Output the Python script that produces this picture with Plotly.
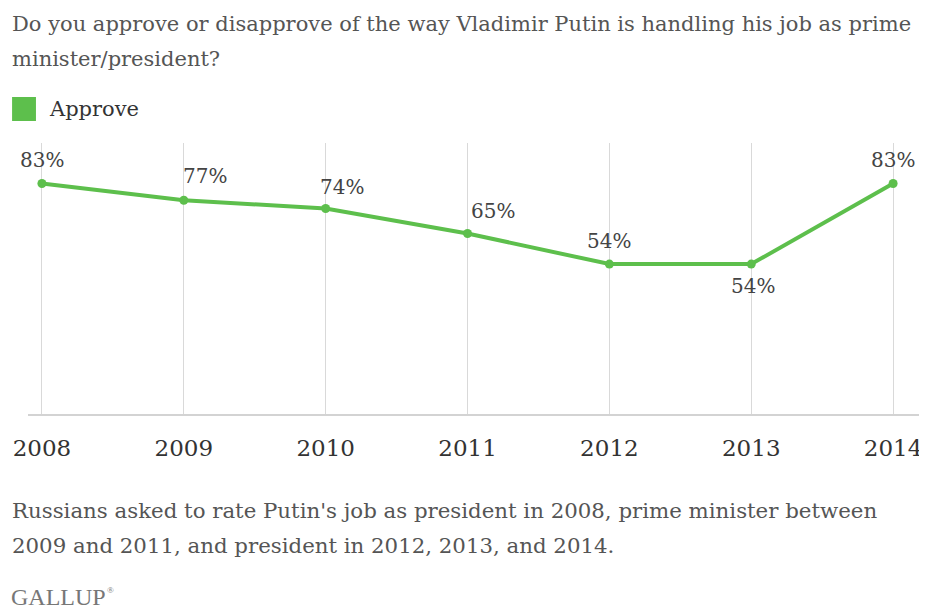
import plotly.graph_objects as go

years = [2008, 2009, 2010, 2011, 2012, 2013, 2014]
approve = [83, 77, 74, 65, 54, 54, 83]
labels = ["83%", "77%", "74%", "65%", "54%", "54%", "83%"]
# label offsets (pixels) relative to each point
label_dx = [0, 21, 16, 25, 0, 2, 0]
label_dy = [24, 24, 22, 23, 23, -22, 24]

title_lines = [
    "Do you approve or disapprove of the way Vladimir Putin is handling his job as prime",
    "minister/president?",
]
note_lines = [
    "Russians asked to rate Putin's job as president in 2008, prime minister between",
    "2009 and 2011, and president in 2012, 2013, and 2014.",
]
series_name = "Approve"

GREEN = "#5dbf4c"
FONT = "DejaVu Serif"
OFF = 8  # page body margin offset
W, H = 927 - OFF, 609 - OFF
# plot area in screen pixels
SX0, SX1, SY0, SY1 = 27, 922, 143, 414
L = SX0 - OFF
R = W - (SX1 - OFF)
T = SY0 - OFF
B = H - (SY1 - OFF)
PW = SX1 - SX0
PH = SY1 - SY0


def px_x(sx):
    return (sx - SX0) / PW


def px_y(sy):
    return (SY1 - sy) / PH


fig = go.Figure()
fig.add_trace(go.Scatter(
    x=years, y=approve, mode="lines+markers",
    line=dict(color=GREEN, width=4),
    marker=dict(color=GREEN, size=9),
    showlegend=False, hoverinfo="skip",
))

annotations = []
for x, y, t, dx, dy in zip(years, approve, labels, label_dx, label_dy):
    annotations.append(dict(
        x=x, y=y, xref="x", yref="y", text=t, showarrow=False,
        xshift=dx, yshift=dy, xanchor="center", yanchor="middle",
        font=dict(family=FONT, size=20, color="#444444"),
    ))

for i, line in enumerate(title_lines):
    annotations.append(dict(
        x=px_x(9), y=px_y(24 + 35 * i), xref="paper", yref="paper",
        text=line, showarrow=False, xanchor="left", yanchor="middle",
        font=dict(family=FONT, size=21, color="#555555"),
    ))

for i, line in enumerate(note_lines):
    annotations.append(dict(
        x=px_x(9), y=px_y(510 + 35 * i), xref="paper", yref="paper",
        text=line, showarrow=False, xanchor="left", yanchor="middle",
        font=dict(family=FONT, size=21.3, color="#555555"),
    ))

annotations.append(dict(
    x=px_x(46), y=px_y(109), xref="paper", yref="paper",
    text=series_name, showarrow=False, xanchor="left", yanchor="middle",
    font=dict(family=FONT, size=21, color="#333333"),
))

annotations.append(dict(
    x=px_x(8), y=px_y(597), xref="paper", yref="paper",
    text="GALLUP", showarrow=False, xanchor="left", yanchor="middle",
    font=dict(family="Liberation Serif", size=24, color="#777777"),
))
annotations.append(dict(
    x=px_x(104), y=px_y(590), xref="paper", yref="paper",
    text="®", showarrow=False, xanchor="left", yanchor="middle",
    font=dict(family="Liberation Serif", size=9, color="#777777"),
))

shapes = [dict(
    type="rect", xref="paper", yref="paper",
    x0=px_x(11), x1=px_x(35), y0=px_y(121), y1=px_y(97),
    fillcolor=GREEN, line=dict(width=0),
)]

fig.update_layout(
    width=W, height=H,
    margin=dict(l=L, r=R, t=T, b=B),
    paper_bgcolor="white", plot_bgcolor="white",
    annotations=annotations, shapes=shapes,
    xaxis=dict(
        range=[2008 - 14 / 142.5, 2014 + 26 / 142.5],
        tickmode="array", tickvals=years, ticktext=[str(y) for y in years],
        showgrid=True, gridcolor="#d9d9d9", gridwidth=1,
        showline=True, linecolor="#d3d3d3", linewidth=2,
        ticks="", zeroline=False,
        tickfont=dict(family=FONT, size=23, color="#333333"),
        ticklabelstandoff=12,
    ),
    yaxis=dict(
        range=[0, 97.6], showgrid=False, zeroline=False,
        showticklabels=False, showline=False,
    ),
)

fig.write_html("out.html")
